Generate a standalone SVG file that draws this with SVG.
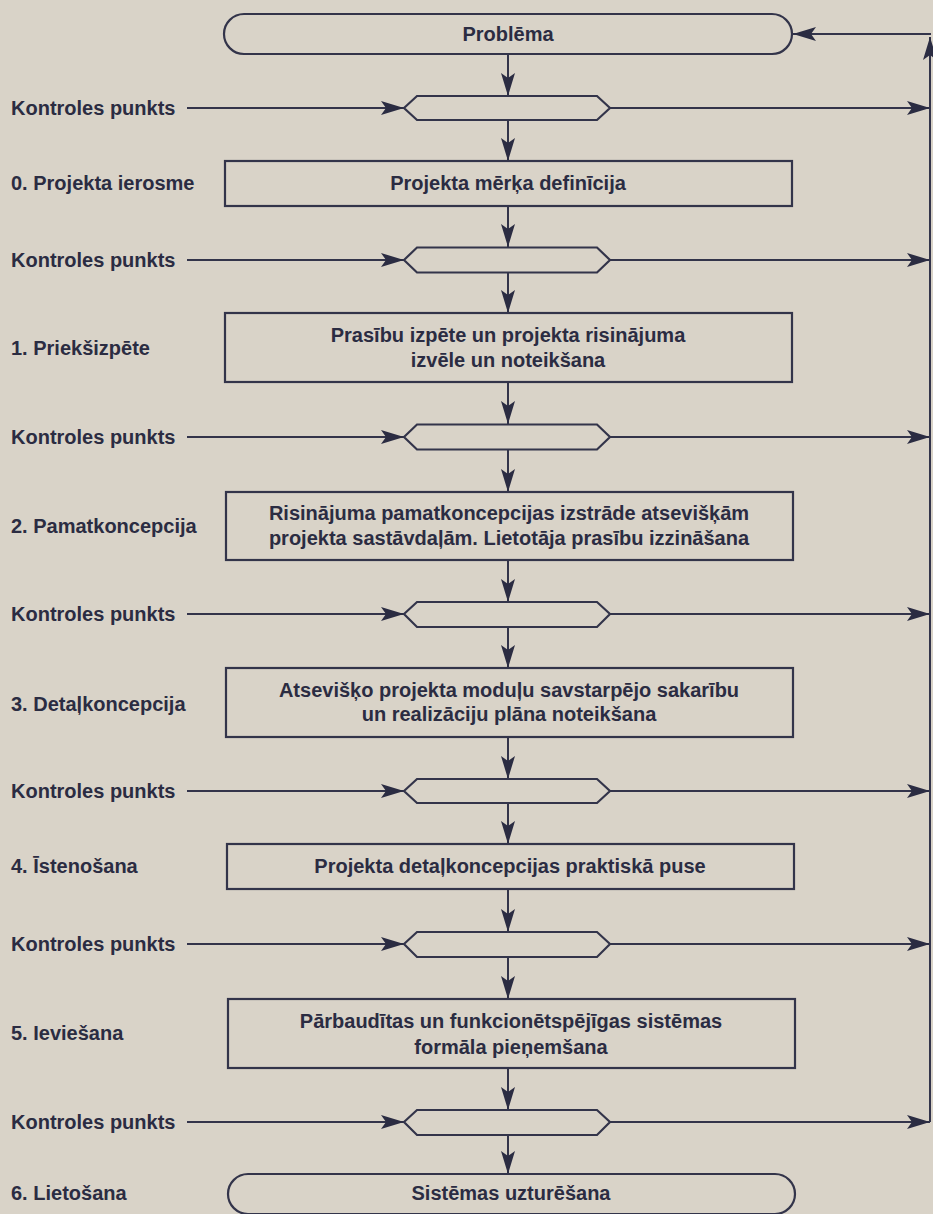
<svg xmlns="http://www.w3.org/2000/svg" width="933" height="1214" viewBox="0 0 933 1214">
<style>
  .bg{fill:#d9d3c8}
  .box{fill:none;stroke:#33344a;stroke-width:2.2}
  .ln{fill:none;stroke:#33344a;stroke-width:2}
  .t{font-family:"Liberation Sans",Arial,sans-serif;font-weight:bold;font-size:20px;fill:#2b2c42}
  .c{text-anchor:middle}
</style>
<defs>
  <marker id="ah" markerUnits="userSpaceOnUse" markerWidth="26" markerHeight="18" viewBox="-24 -9 26 18" refX="0" refY="0" orient="auto">
    <path d="M0,0 L-23,-7 L-18,0 L-23,7 Z" fill="#2b2c42"/>
  </marker>
</defs>
<rect class="bg" x="0" y="0" width="933" height="1214"/>

<g id="connectors">
  <path class="ln" marker-end="url(#ah)" d="M508 54 V96"/>
  <path class="ln" marker-end="url(#ah)" d="M508 120 V161"/>
  <path class="ln" marker-end="url(#ah)" d="M508 206 V247"/>
  <path class="ln" marker-end="url(#ah)" d="M508 272 V313"/>
  <path class="ln" marker-end="url(#ah)" d="M508 382 V424"/>
  <path class="ln" marker-end="url(#ah)" d="M508 449 V492"/>
  <path class="ln" marker-end="url(#ah)" d="M508 560 V602"/>
  <path class="ln" marker-end="url(#ah)" d="M508 627 V668"/>
  <path class="ln" marker-end="url(#ah)" d="M508 737 V779"/>
  <path class="ln" marker-end="url(#ah)" d="M508 803 V844"/>
  <path class="ln" marker-end="url(#ah)" d="M508 889 V932"/>
  <path class="ln" marker-end="url(#ah)" d="M508 957 V999"/>
  <path class="ln" marker-end="url(#ah)" d="M508 1068 V1110"/>
  <path class="ln" marker-end="url(#ah)" d="M508 1135 V1174"/>
  <path class="ln" marker-end="url(#ah)" d="M187 108 H404"/>
  <path class="ln" marker-end="url(#ah)" d="M187 260 H404"/>
  <path class="ln" marker-end="url(#ah)" d="M187 437 H404"/>
  <path class="ln" marker-end="url(#ah)" d="M187 614 H404"/>
  <path class="ln" marker-end="url(#ah)" d="M187 791 H404"/>
  <path class="ln" marker-end="url(#ah)" d="M187 944 H404"/>
  <path class="ln" marker-end="url(#ah)" d="M187 1122 H404"/>
  <path class="ln" marker-end="url(#ah)" d="M610 108 H930"/>
  <path class="ln" marker-end="url(#ah)" d="M610 260 H930"/>
  <path class="ln" marker-end="url(#ah)" d="M610 437 H930"/>
  <path class="ln" marker-end="url(#ah)" d="M610 614 H930"/>
  <path class="ln" marker-end="url(#ah)" d="M610 791 H930"/>
  <path class="ln" marker-end="url(#ah)" d="M610 944 H930"/>
  <path class="ln" marker-end="url(#ah)" d="M610 1122 H930"/>
  <path class="ln" marker-end="url(#ah)" d="M930 1122 V37"/>
  <path class="ln" marker-end="url(#ah)" d="M931 34 H793"/>
</g>

<g id="n-problema">
  <rect class="box" x="224" y="14" width="568" height="40" rx="20" ry="20"/>
  <text class="t c" x="508" y="41">Problēma</text>
</g>

<g id="kp1"><text class="t" x="11" y="115">Kontroles punkts</text><path class="box" d="M404 108 L417 96 H597 L610 108 L597 120 H417 Z"/></g>
<g id="kp2"><text class="t" x="11" y="267">Kontroles punkts</text><path class="box" d="M404 260 L417 247.5 H597 L610 260 L597 272.5 H417 Z"/></g>
<g id="kp3"><text class="t" x="11" y="444">Kontroles punkts</text><path class="box" d="M404 437 L417 424.5 H597 L610 437 L597 449.5 H417 Z"/></g>
<g id="kp4"><text class="t" x="11" y="621">Kontroles punkts</text><path class="box" d="M404 614 L417 602 H597 L610 614 L597 627 H417 Z"/></g>
<g id="kp5"><text class="t" x="11" y="798">Kontroles punkts</text><path class="box" d="M404 791 L417 779 H597 L610 791 L597 803 H417 Z"/></g>
<g id="kp6"><text class="t" x="11" y="951">Kontroles punkts</text><path class="box" d="M404 944 L417 932 H597 L610 944 L597 957 H417 Z"/></g>
<g id="kp7"><text class="t" x="11" y="1129">Kontroles punkts</text><path class="box" d="M404 1122 L417 1110 H597 L610 1122 L597 1135 H417 Z"/></g>

<g id="phase0">
  <text class="t" x="11" y="190">0. Projekta ierosme</text>
  <rect class="box" x="225" y="161" width="567" height="45"/>
  <text class="t c" x="508" y="190">Projekta mērķa definīcija</text>
</g>

<g id="phase1">
  <text class="t" x="11" y="355">1. Priekšizpēte</text>
  <rect class="box" x="225" y="313" width="567" height="69"/>
  <text class="t c" x="508" y="342">Prasību izpēte un projekta risinājuma</text>
  <text class="t c" x="508" y="367">izvēle un noteikšana</text>
</g>

<g id="phase2">
  <text class="t" x="11" y="533">2. Pamatkoncepcija</text>
  <rect class="box" x="226" y="492" width="567" height="68"/>
  <text class="t c" x="509" y="520">Risinājuma pamatkoncepcijas izstrāde atsevišķām</text>
  <text class="t c" x="509" y="545">projekta sastāvdaļām. Lietotāja prasību izzināšana</text>
</g>

<g id="phase3">
  <text class="t" x="11" y="711">3. Detaļkoncepcija</text>
  <rect class="box" x="226" y="668" width="567" height="69"/>
  <text class="t c" x="509" y="697">Atsevišķo projekta moduļu savstarpējo sakarību</text>
  <text class="t c" x="509" y="721">un realizāciju plāna noteikšana</text>
</g>

<g id="phase4">
  <text class="t" x="11" y="873">4. Īstenošana</text>
  <rect class="box" x="227" y="844" width="567" height="45"/>
  <text class="t c" x="510" y="873">Projekta detaļkoncepcijas praktiskā puse</text>
</g>

<g id="phase5">
  <text class="t" x="11" y="1040">5. Ieviešana</text>
  <rect class="box" x="228" y="999" width="567" height="69"/>
  <text class="t c" x="511" y="1028">Pārbaudītas un funkcionētspējīgas sistēmas</text>
  <text class="t c" x="511" y="1054">formāla pieņemšana</text>
</g>

<g id="phase6">
  <text class="t" x="11" y="1200">6. Lietošana</text>
  <rect class="box" x="228" y="1174" width="567" height="40" rx="20" ry="20"/>
  <text class="t c" x="511" y="1200">Sistēmas uzturēšana</text>
</g>
</svg>
